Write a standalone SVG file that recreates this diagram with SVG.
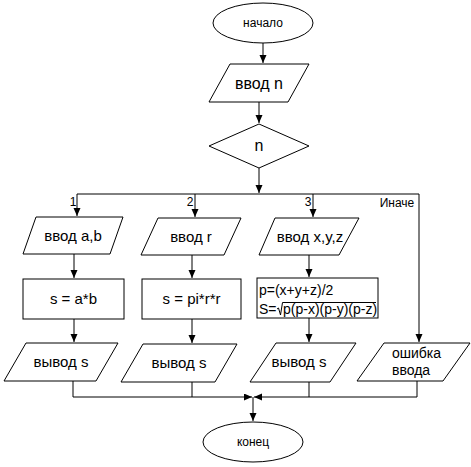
<svg xmlns="http://www.w3.org/2000/svg" width="471" height="467" viewBox="0 0 471 467">
<defs>
<marker id="arr" markerWidth="9" markerHeight="8" refX="8" refY="3.5" orient="auto" markerUnits="userSpaceOnUse">
<path d="M0,0 L8,3.5 L0,7 z" fill="#000"/>
</marker>
</defs>
<style>
.s{fill:#fff;stroke:#000;stroke-width:1}
.t{font-family:"Liberation Sans",Arial,sans-serif;font-size:15px;fill:#000;text-anchor:middle}
.st{text-anchor:start}
.sm{font-size:12px}
.md{font-size:14px}
.lg{font-size:16px}
.c{fill:none;stroke:#000;stroke-width:1}
.a{marker-end:url(#arr)}
</style>
<rect width="471" height="467" fill="#fff"/>
<g id="connectors">
<path class="c a" d="M263,43 V63"/>
<path class="c a" d="M259,102 V123"/>
<path class="c a" d="M259,168 V193"/>
<path class="c" d="M77,194 H419"/>
<path class="c a" d="M77,194 V216"/>
<path class="c a" d="M195,194 V217"/>
<path class="c a" d="M313,194 V217"/>
<path class="c a" d="M419,194 V342"/>
<path class="c a" d="M74,254 V278"/>
<path class="c a" d="M192,255 V278"/>
<path class="c a" d="M309,255 V277"/>
<path class="c a" d="M74,319 V342"/>
<path class="c a" d="M192,319 V343"/>
<path class="c a" d="M309,318 V342"/>
<path class="c" d="M73,381 V397 M192,382 V397 M309,382 V397 M417,381 V397"/>
<path class="c a" d="M73,397 H252"/>
<path class="c a" d="M417,397 H254"/>
<path class="c a" d="M253,397 V421"/>
</g>
<g id="start">
<ellipse class="s" cx="263" cy="23" rx="50" ry="20"/>
<text class="t sm" x="263" y="27">начало</text>
</g>
<g id="input-n">
<polygon class="s" points="230,64 309,64 288,102 209,102"/>
<text class="t lg" x="259" y="89">ввод n</text>
</g>
<g id="decision">
<polygon class="s" points="259,124 309,146 259,168 209,146"/>
<text class="t lg" x="259" y="151">n</text>
</g>
<g id="labels">
<text class="t sm" x="73" y="206">1</text>
<text class="t sm" x="190" y="206">2</text>
<text class="t sm" x="308" y="206">3</text>
<text class="t sm" x="397" y="207">Иначе</text>
</g>
<g id="input-ab">
<polygon class="s" points="36,217 123,217 110,254 23,254"/>
<text class="t" x="73" y="241">ввод a,b</text>
</g>
<g id="input-r">
<polygon class="s" points="158,218 241,218 224,255 141,255"/>
<text class="t" x="191" y="242">ввод r</text>
</g>
<g id="input-xyz">
<polygon class="s" points="275,218 359,218 339,255 259,255"/>
<text class="t" x="310" y="242">ввод x,y,z</text>
</g>
<g id="calc-ab">
<rect class="s" x="23" y="279" width="101" height="40"/>
<text class="t" x="73.5" y="304">s = a*b</text>
</g>
<g id="calc-r">
<rect class="s" x="142" y="279" width="99" height="40"/>
<text class="t" x="191.5" y="304">s = pi*r*r</text>
</g>
<g id="calc-xyz">
<rect class="s" x="257" y="278" width="121" height="40"/>
<text class="t md st" x="259" y="295">p=(x+y+z)/2</text>
<text class="t md st" x="259" y="314">S=</text>
<path class="c" d="M277,309 L278.5,308 L280.5,315 L282.5,302.5 H376"/>
<text class="t md st" x="283" y="314">p(p-x)(p-y)(p-z)</text>
</g>
<g id="output-1">
<polygon class="s" points="26,343 118,343 96,381 4,381"/>
<text class="t" x="61" y="367">вывод s</text>
</g>
<g id="output-2">
<polygon class="s" points="143,344 237,344 215,382 121,382"/>
<text class="t" x="179" y="368">вывод s</text>
</g>
<g id="output-3">
<polygon class="s" points="276,343 356,343 330,382 250,382"/>
<text class="t" x="299" y="367">вывод s</text>
</g>
<g id="error">
<polygon class="s" points="384,343 470,343 443,381 357,381"/>
<text class="t md st" x="392" y="358">ошибка</text>
<text class="t md st" x="392" y="375">ввода</text>
</g>
<g id="end">
<ellipse class="s" cx="253" cy="442" rx="50" ry="20"/>
<text class="t sm" x="253" y="446">конец</text>
</g>
</svg>
